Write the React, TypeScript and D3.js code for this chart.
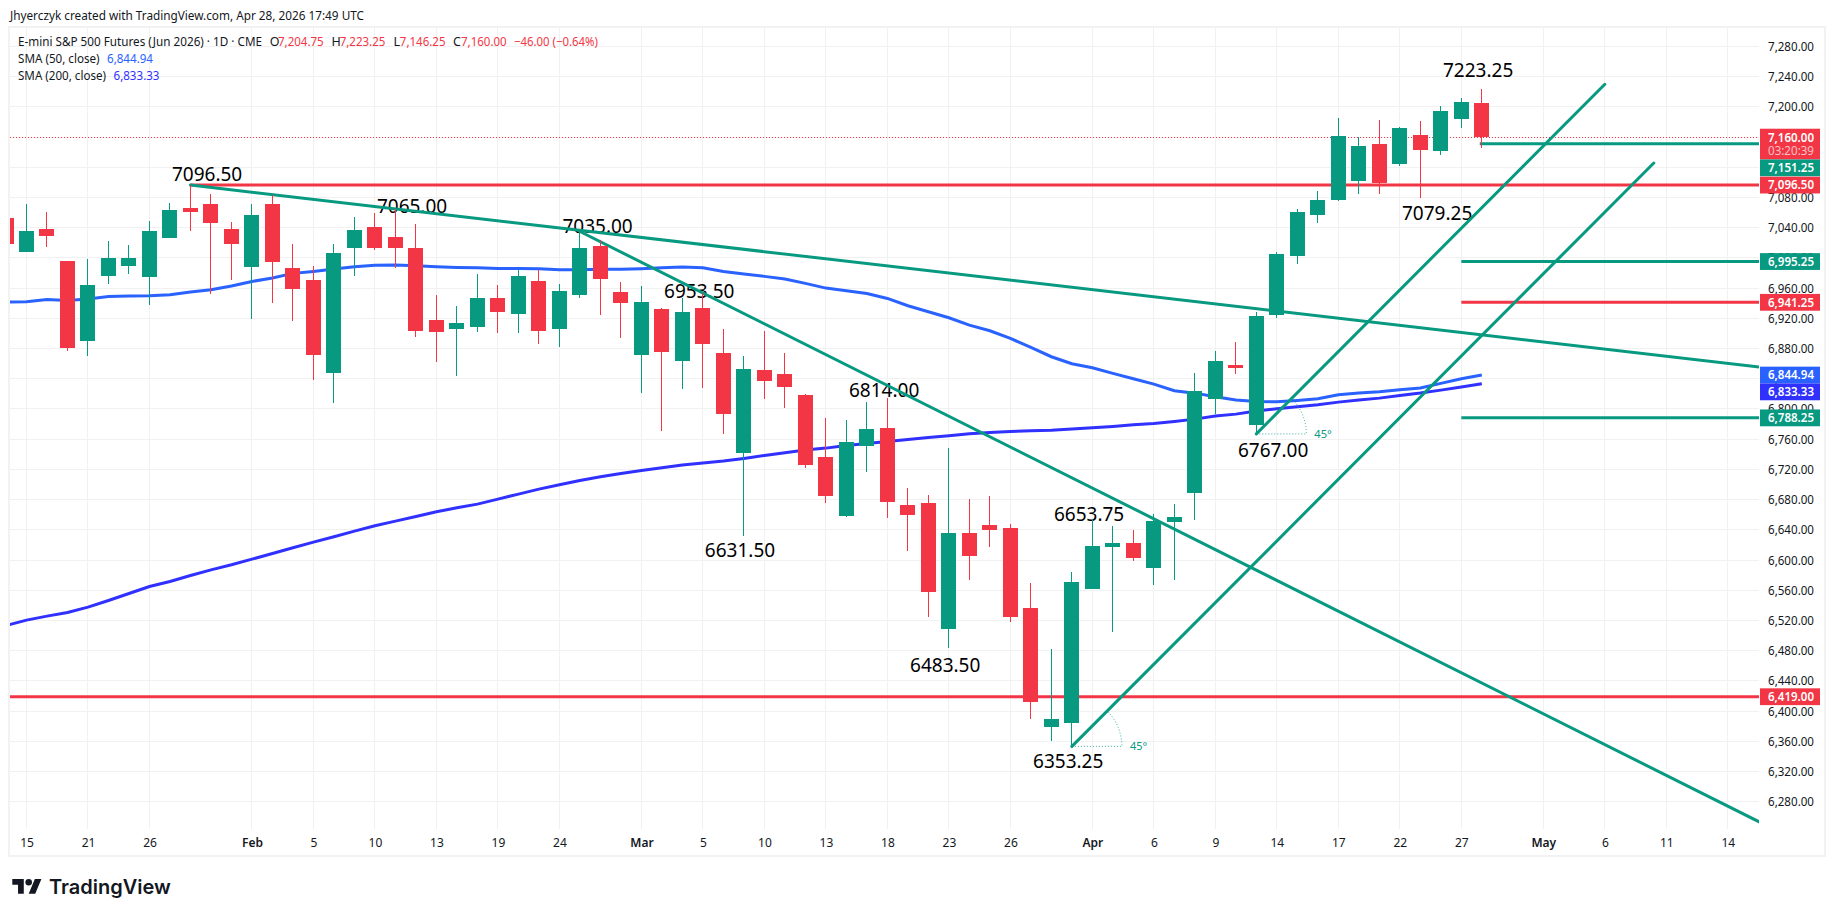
import React, { useEffect, useRef } from 'react';
import * as d3 from 'd3';

const UP = '#089981';
const DOWN = '#f23645';
const SMA50 = '#2962ff';
const SMA200 = '#3030ff';
const GRID = '#f1f1f1';
const TEXT = '#131722';

// daily candles, first one is the clipped bar left of "15"
const firstBar = -1;
const opens = [7052.8, 7007.8, 7038.3, 6995.9, 6889.9, 6976, 6989.3, 6974.7, 7026.3, 7066.1, 7071.4, 7038.3, 6987.9, 7071.4, 6986.6, 6970.7, 6847.5, 7013.1, 7040.9, 7027.7, 7013.1, 6917.7, 6905.8, 6908.5, 6946.9, 6925.7, 6969.4, 6905.8, 6950.9, 7015.8, 6954.8, 6871.4, 6932.3, 6863.4, 6933.6, 6874, 6741.6, 6851.5, 6846.2, 6818.4, 6736.3, 6658.2, 6750.9, 6774.7, 6672.7, 6675.4, 6508.5, 6635.6, 6646.2, 6642.3, 6536.3, 6378.7, 6384, 6561.5, 6617.1, 6622.4, 6589.3, 6650.2, 6688.6, 6813.1, 6858.1, 6778.7, 6924.4, 7002.5, 7056.8, 7076.7, 7101.9, 7150.9, 7124.4, 7162.8, 7141.6, 7184, 7204.75];
const highs = [7060, 7071.4, 7060.8, 6995.9, 6998.5, 7022.4, 7017, 7048.9, 7072.7, 7096.5, 7084.6, 7047.6, 7071.4, 7083.3, 7018.4, 6989.3, 7018.4, 7054.2, 7059.5, 7065, 7044.9, 6950.9, 6936.3, 6978.7, 6964.1, 6985.3, 6984, 6965.4, 7035, 7023.7, 6968.1, 6962.8, 6933.6, 6946.9, 6953.5, 6905.8, 6870.1, 6903.2, 6874, 6819.7, 6787.9, 6785.3, 6809.1, 6814, 6695.2, 6686, 6748.2, 6680.7, 6684.6, 6647.5, 6569.4, 6482, 6584, 6653.75, 6644.9, 6639.6, 6660.8, 6674, 6847.6, 6876.7, 6888.6, 6928.4, 7007.8, 7064.8, 7088.6, 7185.3, 7160.1, 7182.6, 7173.4, 7181.3, 7201.2, 7211.8, 7223.25];
const lows = [7010, 7007.8, 7014.4, 6876.7, 6870.1, 6965.4, 6978.7, 6937.6, 7026.3, 7035.6, 6952.2, 6970.7, 6919.1, 6940.3, 6916.4, 6838.3, 6807.8, 6976, 7010.5, 6986.6, 6895.2, 6862.1, 6843.6, 6901.9, 6900.5, 6900.5, 6886, 6882, 6946.9, 6924.4, 6893.9, 6821.1, 6770.7, 6826.4, 6827.7, 6766.7, 6631.5, 6813.1, 6801.2, 6721.7, 6675.4, 6656.8, 6716.4, 6655.5, 6611.8, 6524.4, 6483.5, 6573.4, 6617.1, 6517.8, 6389.3, 6360.1, 6353.25, 6561.5, 6504.5, 6598.5, 6566.8, 6573.4, 6652.8, 6793.2, 6846.2, 6767, 6920.4, 6991.9, 7046.2, 7075.4, 7084.6, 7084.6, 7121.7, 7079.25, 7136.3, 7172, 7146.25];
const closes = [7018.4, 7035.6, 7029, 6880.7, 6964.1, 7000, 7000, 7035.6, 7063.4, 7060.8, 7046.2, 7018.4, 7056.8, 6994.6, 6958.8, 6871.4, 7006.5, 7036.9, 7013.1, 7013.1, 6903.2, 6901.9, 6913.8, 6946.9, 6928.4, 6976, 6903.2, 6956.1, 7013.1, 6972, 6940.3, 6941.6, 6875.4, 6928.4, 6886, 6793.2, 6852.9, 6836.9, 6829, 6725.7, 6684.6, 6756.2, 6773.4, 6676.7, 6659.5, 6557.5, 6635.6, 6605.2, 6639.6, 6524.4, 6411.8, 6389.3, 6570.7, 6618.4, 6622.4, 6602.5, 6651.5, 6656.8, 6823.7, 6863.4, 6854.2, 6923.1, 7005.2, 7060.8, 7076.7, 7161.5, 7148.2, 7099.2, 7172, 7142.9, 7194.6, 7206.5, 7160];

const sma50 = [6941.6, 6942, 6945.1, 6943.8, 6945.6, 6949.1, 6949.5, 6950, 6951.3, 6954.8, 6957.9, 6962.8, 6968.9, 6973.4, 6979.6, 6982.2, 6985.3, 6988.4, 6990.2, 6990.6, 6989.7, 6988.4, 6987.5, 6987, 6986.2, 6986.2, 6985.7, 6984.4, 6984.4, 6984.9, 6984.9, 6985.7, 6987, 6987.9, 6987, 6982.2, 6978.7, 6975.6, 6972, 6966.3, 6960.1, 6956.6, 6953, 6946.4, 6936.7, 6928.8, 6920.8, 6911.1, 6903.6, 6893.5, 6881.5, 6869.2, 6859.9, 6854.6, 6847.1, 6840, 6833, 6824.1, 6821, 6816.2, 6811.8, 6810, 6809.6, 6811.3, 6813.5, 6818.9, 6821.1, 6822.8, 6825.5, 6827.7, 6833.9, 6840, 6844.94];
const sma200 = [6513.3, 6520.4, 6525.7, 6530.6, 6537.6, 6546.4, 6555.7, 6565, 6571.6, 6579.6, 6587, 6593.7, 6601.2, 6608.7, 6616.2, 6623.7, 6630.8, 6638.3, 6645.3, 6651.5, 6657.7, 6663.9, 6669.2, 6674, 6680.7, 6687.3, 6693.9, 6699.6, 6705.4, 6710.2, 6714.7, 6718.6, 6722.2, 6725.7, 6728.4, 6731, 6734.5, 6738.5, 6742, 6745.6, 6748.2, 6751.7, 6754.4, 6757, 6759.7, 6762.3, 6764.5, 6767.2, 6769, 6770.3, 6771.2, 6772, 6773.4, 6775.1, 6776.9, 6779.1, 6780.9, 6783.5, 6786.6, 6790.6, 6793.2, 6797.2, 6800.3, 6803, 6805.6, 6809.1, 6811.8, 6814.4, 6818, 6821.1, 6825, 6829, 6833.33];

// price and time axes
const priceTicks = d3.range(6280, 7281, 40);
const timeTickBars = [0, 3, 6, 11, 14, 17, 20, 23, 26, 30, 33, 36, 39, 42, 45, 48, 52, 55, 58, 61, 64, 67, 70, 74, 77, 80, 83];
const timeTickLabels = ['15', '21', '26', 'Feb', '5', '10', '13', '19', '24', 'Mar', '5', '10', '13', '18', '23', '26', 'Apr', '6', '9', '14', '17', '22', '27', 'May', '6', '11', '14'];
const monthLabels = ['Feb', 'Mar', 'Apr', 'May'];

// drawings: [bar, price] -> [bar, price]
const trendLines = [
  [8, 7096.5, 84.53, 6855.5],
  [27, 7035, 84.53, 6253.3],
  [60, 6767, 77, 7230],
  [51, 6353.25, 79.39, 7125.7],
];
const angleBars = [51, 60];
const angleLows = [6353.25, 6767];
const levelValues = [7096.5, 7151.25, 6995.25, 6941.25, 6788.25, 6419];
const levelStarts = [8, 70.9, 70, 70, 70, -2];
const levelColors = [DOWN, UP, UP, DOWN, UP, DOWN];

const noteTexts = ['7096.50', '7065.00', '7035.00', '6953.50', '6814.00', '6631.50', '6483.50', '6653.75', '6353.25', '6767.00', '7079.25', '7223.25'];
const noteBars = [8.81, 18.81, 27.86, 32.82, 41.84, 34.81, 44.82, 51.84, 50.82, 60.82, 68.82, 70.82];
const notePrices = [7102.3, 7059.1, 7032.6, 6946.5, 6815.4, 6603.4, 6451.9, 6651.9, 6324, 6735.9, 7050.2, 7240];

const tagValues = [7160, 7151.25, 7096.5, 6995.25, 6941.25, 6844.94, 6833.33, 6788.25, 6419];
const tagColors = [DOWN, UP, DOWN, UP, DOWN, SMA50, SMA200, UP, DOWN];
const countdown = '03:20:39';

const App: React.FC = () => {
  const svgRef = useRef<SVGSVGElement>(null);

  useEffect(() => {
    if (!svgRef.current) return;

    const svg = d3.select(svgRef.current);
    svg.selectAll('*').remove();

    const width = 1835;
    const height = 917;
    const plot = { left: 10, right: 1759, top: 28, bottom: 829 };
    const font = '"Noto Sans", sans-serif';
    const lineW = 3;
    const priceW = 46; // px width of a price label in the reference

    const x = d3.scaleLinear().domain([0, 83]).range([26.5, 1727.8]);
    const y = d3.scaleLinear().domain([6280, 7280]).range([801.7, 46.5]);
    const fmt = d3.format(',.2f');

    svg.append('rect').attr('width', width).attr('height', height).attr('fill', '#ffffff');

    // frame
    svg.append('rect')
      .attr('x', 9).attr('y', 27)
      .attr('width', 1816).attr('height', 829)
      .attr('fill', 'none')
      .attr('stroke', '#f2f2f2')
      .attr('stroke-width', 2);

    svg.append('clipPath').attr('id', 'plot')
      .append('rect')
      .attr('x', plot.left).attr('y', plot.top)
      .attr('width', plot.right - plot.left).attr('height', plot.bottom - plot.top);

    // Grid
    const grid = svg.append('g').attr('shape-rendering', 'crispEdges').attr('stroke', GRID);
    grid.selectAll('line.h').data(priceTicks).join('line')
      .attr('class', 'h')
      .attr('x1', plot.left).attr('x2', plot.right)
      .attr('y1', d => Math.floor(y(d)) + 0.5).attr('y2', d => Math.floor(y(d)) + 0.5);
    grid.selectAll('line.v').data(timeTickBars).join('line')
      .attr('class', 'v')
      .attr('x1', d => Math.floor(x(d)) + 0.5).attr('x2', d => Math.floor(x(d)) + 0.5)
      .attr('y1', plot.top).attr('y2', plot.bottom);

    const chart = svg.append('g').attr('clip-path', 'url(#plot)');

    // last price line
    chart.append('line')
      .attr('x1', plot.left).attr('x2', plot.right)
      .attr('y1', Math.floor(y(closes[closes.length - 1])) + 0.5)
      .attr('y2', Math.floor(y(closes[closes.length - 1])) + 0.5)
      .attr('stroke', DOWN)
      .attr('stroke-dasharray', '1 2');

    // text notes sit under the trend lines
    chart.append('g')
      .attr('font-family', font)
      .attr('font-size', 19)
      .attr('fill', '#000000')
      .attr('text-anchor', 'middle')
      .selectAll('text')
      .data(noteTexts)
      .join('text')
      .attr('x', (_, i) => x(noteBars[i]))
      .attr('y', (_, i) => y(notePrices[i]))
      .text(d => d);

    // SMAs
    const smaLine = d3.line<number>()
      .x((_, i) => x(i + firstBar))
      .y(d => y(d));
    chart.append('path').attr('d', smaLine(sma50)).attr('fill', 'none').attr('stroke', SMA50).attr('stroke-width', lineW);
    chart.append('path').attr('d', smaLine(sma200)).attr('fill', 'none').attr('stroke', SMA200).attr('stroke-width', lineW);

    // horizontal levels
    chart.append('g')
      .selectAll('line')
      .data(levelValues)
      .join('line')
      .attr('x1', (_, i) => x(levelStarts[i]))
      .attr('x2', plot.right)
      .attr('y1', d => y(d))
      .attr('y2', d => y(d))
      .attr('stroke', (_, i) => levelColors[i])
      .attr('stroke-width', lineW);

    // trend lines
    chart.append('g')
      .selectAll('line')
      .data(trendLines)
      .join('line')
      .attr('x1', d => x(d[0]))
      .attr('y1', d => y(d[1]))
      .attr('x2', d => x(d[2]))
      .attr('y2', d => y(d[3]))
      .attr('stroke', UP)
      .attr('stroke-width', lineW)
      .attr('stroke-linecap', 'round');

    // 45 degree angle marks
    const radius = 50;
    angleBars.forEach((bar, i) => {
      const cx = x(bar);
      const cy = y(angleLows[i]);
      const p = d3.path();
      p.moveTo(cx, cy);
      p.lineTo(cx + radius, cy);
      p.arc(cx, cy, radius, 0, -Math.PI / 4, true);
      chart.append('path')
        .attr('d', p.toString())
        .attr('fill', 'none')
        .attr('stroke', UP)
        .attr('stroke-opacity', 0.8)
        .attr('stroke-dasharray', '1 2');
      chart.append('text')
        .attr('x', cx + radius + 8)
        .attr('y', cy + 4)
        .attr('font-family', font)
        .attr('font-size', 11)
        .attr('fill', UP)
        .text('45°');
    });

    // Candles
    const candles = chart.append('g').attr('shape-rendering', 'crispEdges');
    const cand = d3.range(opens.length);
    const colorOf = (i: number) => (closes[i] >= opens[i] ? UP : DOWN);
    candles.selectAll('rect.wick').data(cand).join('rect')
      .attr('class', 'wick')
      .attr('x', i => Math.floor(x(i + firstBar)))
      .attr('y', i => y(highs[i]))
      .attr('width', 1)
      .attr('height', i => y(lows[i]) - y(highs[i]))
      .attr('fill', colorOf);
    candles.selectAll('rect.body').data(cand).join('rect')
      .attr('class', 'body')
      .attr('x', i => Math.floor(x(i + firstBar)) - 7)
      .attr('y', i => y(Math.max(opens[i], closes[i])))
      .attr('width', 15)
      .attr('height', i => Math.abs(y(opens[i]) - y(closes[i])))
      .attr('fill', colorOf);

    // Price axis
    svg.append('g')
      .attr('transform', `translate(1768,0)`)
      .call(d3.axisRight(y).tickValues(priceTicks).tickSize(0).tickPadding(0).tickFormat(d => fmt(d as number)))
      .call(g => g.select('.domain').remove())
      .call(g => g.selectAll('text')
        .attr('font-family', font)
        .attr('font-size', 12.5)
        .attr('textLength', priceW)
        .attr('lengthAdjust', 'spacingAndGlyphs')
        .attr('fill', TEXT));

    // Time axis
    svg.append('g')
      .attr('transform', `translate(0,838)`)
      .call(d3.axisBottom(x).tickValues(timeTickBars).tickSize(0).tickPadding(0)
        .tickFormat((_, i) => timeTickLabels[i]))
      .call(g => g.select('.domain').remove())
      .call(g => g.selectAll('text')
        .attr('font-family', font)
        .attr('font-size', 12)
        .attr('font-weight', (_, i) => (monthLabels.includes(timeTickLabels[i]) ? 600 : 400))
        .attr('fill', TEXT));

    // Price tags, pushed down when they would overlap
    const tagH = 16.8;
    let floor = -Infinity;
    const tags = svg.append('g')
      .attr('font-family', font)
      .attr('font-size', 12.5);
    tagValues.forEach((v, i) => {
      const h = i === 0 ? tagH * 1.83 : tagH;
      const top = Math.max(y(v) - tagH / 2, floor);
      floor = top + h;
      tags.append('rect')
        .attr('x', 1760).attr('y', top)
        .attr('width', 60).attr('height', h)
        .attr('fill', tagColors[i]);
      tags.append('text')
        .attr('x', 1768).attr('y', top + tagH / 2 + 4.4)
        .attr('fill', '#ffffff')
        .attr('font-weight', 600)
        .attr('textLength', priceW)
        .attr('lengthAdjust', 'spacingAndGlyphs')
        .text(fmt(v));
      if (i === 0) {
        tags.append('text')
          .attr('x', 1768).attr('y', top + tagH / 2 + 18)
          .attr('fill', '#ffffff')
          .attr('fill-opacity', 0.7)
          .attr('textLength', priceW)
          .attr('lengthAdjust', 'spacingAndGlyphs')
          .text(countdown);
      }
    });

    // Header
    const header = svg.append('g').attr('font-family', font).attr('font-size', 12.5).attr('fill', TEXT);
    const legend = (x0: number, y0: number, t: string, c: string, w?: number) => {
      const n = header.append('text').attr('x', x0).attr('y', y0).attr('fill', c).text(t);
      if (w) n.attr('textLength', w).attr('lengthAdjust', 'spacingAndGlyphs');
    };
    legend(10, 19.5, 'Jhyerczyk created with TradingView.com, Apr 28, 2026 17:49 UTC', TEXT, 354);
    legend(18, 46, 'E-mini S&P 500 Futures (Jun 2026) · 1D · CME', TEXT, 244);
    legend(269.7, 46, 'O', TEXT);
    legend(278, 46, fmt(opens[opens.length - 1]), DOWN, 45.7);
    legend(331.4, 46, 'H', TEXT);
    legend(339.7, 46, fmt(highs[highs.length - 1]), DOWN, 45.7);
    legend(393.4, 46, 'L', TEXT);
    legend(399.8, 46, fmt(lows[lows.length - 1]), DOWN, 45.7);
    legend(453, 46, 'C', TEXT);
    legend(461, 46, fmt(closes[closes.length - 1]), DOWN, 45.7);
    legend(514, 46, '−46.00 (−0.64%)', DOWN, 84);
    legend(18, 63, 'SMA (50, close)', TEXT, 81.6);
    legend(107, 63, fmt(sma50[sma50.length - 1]), SMA50, 46);
    legend(18, 80, 'SMA (200, close)', TEXT, 88);
    legend(113.5, 80, fmt(sma200[sma200.length - 1]), SMA200, 46);

    // Logo
    const logo = svg.append('g').attr('transform', 'translate(12.3,875.7) scale(0.82)').attr('fill', '#131722');
    logo.append('path').attr('d', 'M14 22H7V11H0V4h14v18zM28 22h-8l7.5-18h8L28 22z');
    logo.append('circle').attr('cx', 20).attr('cy', 8).attr('r', 4);
    svg.append('text')
      .attr('x', 49).attr('y', 894)
      .attr('font-family', '"Inter", sans-serif')
      .attr('font-size', 20)
      .attr('font-weight', 600)
      .attr('fill', '#131722')
      .text('TradingView');
  }, []);

  return (
    <svg
      ref={svgRef}
      width={1835}
      height={917}
      style={{ position: 'absolute', left: 0, top: 0, display: 'block' }}
    ></svg>
  );
};

export default App;
